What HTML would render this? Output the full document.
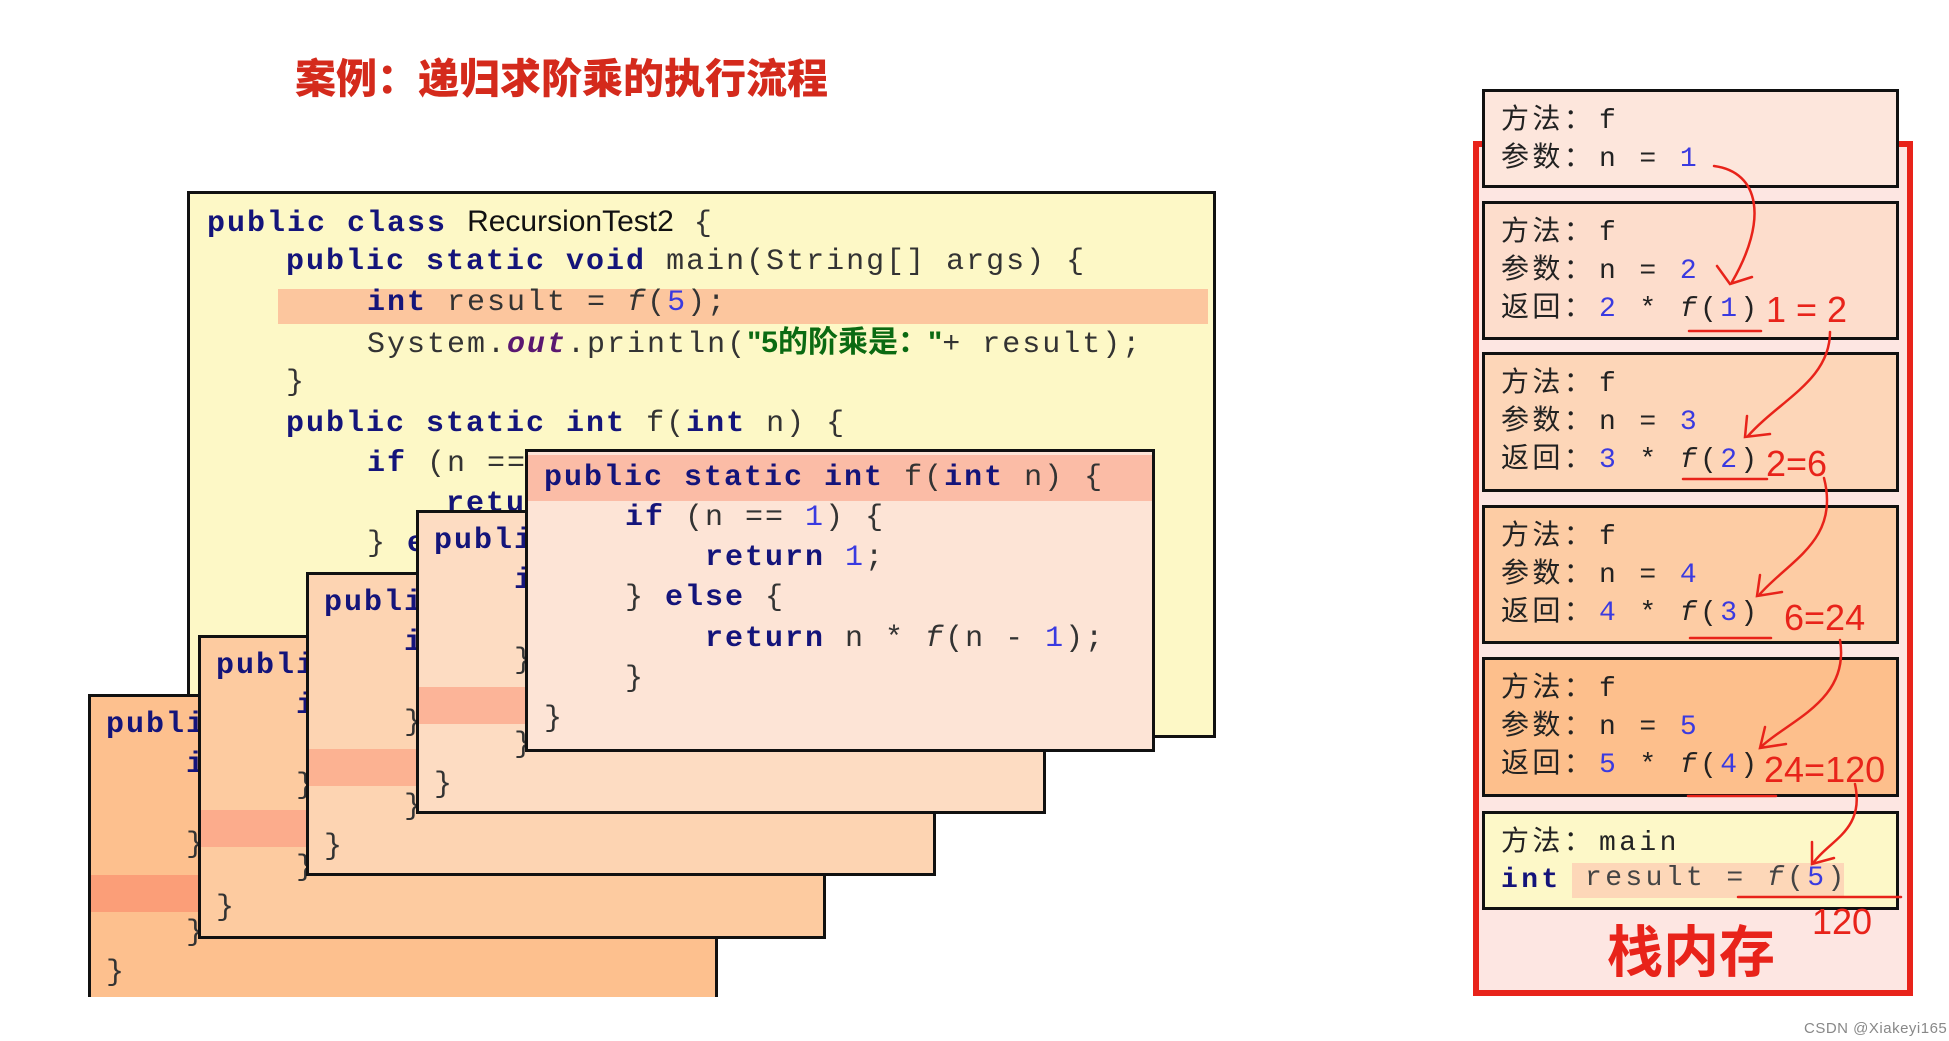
<!DOCTYPE html>
<html><head><meta charset="utf-8">
<style>
body{margin:0;width:1949px;height:1041px;background:#fff;position:relative;overflow:hidden;font-family:"Liberation Sans","Noto Sans CJK SC",sans-serif}
.abs{position:absolute}
.box{position:absolute;border:3px solid #111;box-sizing:border-box;overflow:hidden}
.ln{position:absolute;height:40px;line-height:40px;white-space:pre;font-family:"Liberation Mono","Noto Sans CJK SC",monospace;font-size:30px;letter-spacing:2px;color:#333}
.k{color:#14147a;font-weight:bold}
.n{color:#3a3ae0}
.s{color:#0b6a12;font-weight:bold;font-family:"Liberation Sans","Noto Sans CJK SC",sans-serif;letter-spacing:0}
.o{color:#5a1870;font-weight:bold;font-style:italic}
.i{font-style:italic}
.hl{position:absolute;left:0;right:0}
.fr{position:absolute;left:1490px;width:417px;border:3px solid #111;box-sizing:border-box}
.ft{position:absolute;height:38px;line-height:38px;white-space:pre;font-family:"Liberation Mono","Noto Sans CJK SC",monospace;font-size:28px;letter-spacing:3.4px;color:#222}
.hw{position:absolute;color:#e8231a;font-family:"Liberation Sans",sans-serif;font-size:36px;line-height:36px;white-space:pre}
</style></head><body>

<div class="abs" style="left:295px;top:47px;font-size:41px;font-weight:900;color:#d42a1c;font-family:'Noto Sans CJK SC',sans-serif;line-height:56px;white-space:nowrap">案例：递归求阶乘的执行流程</div>

<!-- main yellow box -->
<div class="box" style="left:187px;top:191px;width:1029px;height:547px;background:#fdf8c6">
  <div class="hl" style="left:88px;right:5px;top:95px;height:35px;background:#fcc69e"></div>
  <div class="ln" style="left:17px;top:8px"><span class="k">public class</span> <span style="font-family:'Liberation Sans';letter-spacing:0;color:#111">RecursionTest2</span> {</div>
  <div class="ln" style="left:96px;top:48px"><span class="k">public static void</span> main(String[] args) {</div>
  <div class="ln" style="left:177px;top:89px"><span class="k">int</span> result = <span class="i">f</span>(<span class="n">5</span>);</div>
  <div class="ln" style="left:177px;top:129px">System.<span class="o">out</span>.println(<span class="s">"5的阶乘是："</span>+ result);</div>
  <div class="ln" style="left:96px;top:169px">}</div>
  <div class="ln" style="left:96px;top:210px"><span class="k">public static int</span> f(<span class="k">int</span> n) {</div>
  <div class="ln" style="left:177px;top:250px"><span class="k">if</span> (n == <span class="n">1</span>) {</div>
  <div class="ln" style="left:256px;top:290px"><span class="k">return</span> <span class="n">1</span>;</div>
  <div class="ln" style="left:177px;top:330px">} <span class="k">else</span> {</div>
  <div class="ln" style="left:256px;top:371px"><span class="k">return</span> n * <span class="i">f</span>(n - <span class="n">1</span>);</div>
  <div class="ln" style="left:177px;top:411px">}</div>
  <div class="ln" style="left:96px;top:451px">}</div>
</div>

<!-- stacked boxes: back to front -->
<div class="box" style="left:88px;top:694px;width:630px;height:303px;border-bottom:none;background:#fdc08e">
  <div class="hl" style="top:178px;height:37px;background:#fb9e78"></div>
  <div class="ln" style="left:15px;top:8px"><span class="k">public static int</span> f(<span class="k">int</span> n) {</div>
  <div class="ln" style="left:95px;top:48px"><span class="k">if</span> (n == <span class="n">1</span>) {</div>
  <div class="ln" style="left:175px;top:88px"><span class="k">return</span> <span class="n">1</span>;</div>
  <div class="ln" style="left:95px;top:128px">} <span class="k">else</span> {</div>
  <div class="ln" style="left:175px;top:176px"><span class="k">return</span> n * <span class="i">f</span>(n - <span class="n">1</span>);</div>
  <div class="ln" style="left:95px;top:216px">}</div>
  <div class="ln" style="left:15px;top:256px">}</div>
</div>
<div class="box" style="left:198px;top:635px;width:628px;height:304px;background:#fdcba0">
  <div class="hl" style="top:172px;height:37px;background:#fcac8c"></div>
  <div class="ln" style="left:15px;top:8px"><span class="k">public static int</span> f(<span class="k">int</span> n) {</div>
  <div class="ln" style="left:95px;top:48px"><span class="k">if</span> (n == <span class="n">1</span>) {</div>
  <div class="ln" style="left:175px;top:88px"><span class="k">return</span> <span class="n">1</span>;</div>
  <div class="ln" style="left:95px;top:128px">} <span class="k">else</span> {</div>
  <div class="ln" style="left:175px;top:170px"><span class="k">return</span> n * <span class="i">f</span>(n - <span class="n">1</span>);</div>
  <div class="ln" style="left:95px;top:210px">}</div>
  <div class="ln" style="left:15px;top:250px">}</div>
</div>
<div class="box" style="left:306px;top:572px;width:630px;height:304px;background:#fdd4b2">
  <div class="hl" style="top:174px;height:37px;background:#fcb292"></div>
  <div class="ln" style="left:15px;top:8px"><span class="k">public static int</span> f(<span class="k">int</span> n) {</div>
  <div class="ln" style="left:95px;top:48px"><span class="k">if</span> (n == <span class="n">1</span>) {</div>
  <div class="ln" style="left:175px;top:88px"><span class="k">return</span> <span class="n">1</span>;</div>
  <div class="ln" style="left:95px;top:128px">} <span class="k">else</span> {</div>
  <div class="ln" style="left:175px;top:172px"><span class="k">return</span> n * <span class="i">f</span>(n - <span class="n">1</span>);</div>
  <div class="ln" style="left:95px;top:212px">}</div>
  <div class="ln" style="left:15px;top:252px">}</div>
</div>
<div class="box" style="left:416px;top:510px;width:630px;height:304px;background:#fddcc2">
  <div class="hl" style="top:174px;height:37px;background:#fcb498"></div>
  <div class="ln" style="left:15px;top:8px"><span class="k">public static int</span> f(<span class="k">int</span> n) {</div>
  <div class="ln" style="left:95px;top:48px"><span class="k">if</span> (n == <span class="n">1</span>) {</div>
  <div class="ln" style="left:175px;top:88px"><span class="k">return</span> <span class="n">1</span>;</div>
  <div class="ln" style="left:95px;top:128px">} <span class="k">else</span> {</div>
  <div class="ln" style="left:175px;top:172px"><span class="k">return</span> n * <span class="i">f</span>(n - <span class="n">1</span>);</div>
  <div class="ln" style="left:95px;top:212px">}</div>
  <div class="ln" style="left:15px;top:252px">}</div>
</div>
<div class="box" style="left:525px;top:449px;width:630px;height:303px;background:#fde4d6">
  <div class="hl" style="top:3px;height:46px;background:#fbbca6"></div>
  <div class="ln" style="left:16px;top:6px"><span class="k">public static int</span> f(<span class="k">int</span> n) {</div>
  <div class="ln" style="left:97px;top:46px"><span class="k">if</span> (n == <span class="n">1</span>) {</div>
  <div class="ln" style="left:177px;top:86px"><span class="k">return</span> <span class="n">1</span>;</div>
  <div class="ln" style="left:97px;top:126px">} <span class="k">else</span> {</div>
  <div class="ln" style="left:177px;top:167px"><span class="k">return</span> n * <span class="i">f</span>(n - <span class="n">1</span>);</div>
  <div class="ln" style="left:97px;top:207px">}</div>
  <div class="ln" style="left:16px;top:247px">}</div>
</div>

<!-- stack memory -->
<div class="abs" style="left:1473px;top:141px;width:440px;height:855px;box-sizing:border-box;border:6px solid #e8231a;background:#fde6e2"></div>
<div class="abs" style="left:1607px;top:914px;font-size:56px;font-weight:bold;color:#e8231a;font-family:'Noto Sans CJK SC',sans-serif;line-height:70px">栈内存</div>

<div style="position:absolute;left:-8px;top:0">
<div class="fr" style="top:89px;height:99px;background:#fde6dc">
  <div class="ft" style="left:16px;top:11px">方法：</div><div class="ft" style="left:114px;top:11px">f</div>
  <div class="ft" style="left:16px;top:49px">参数：</div><div class="ft" style="left:114px;top:49px">n = <span class="n">1</span></div>
</div>
<div class="fr" style="top:201px;height:139px;background:#fdddcc">
  <div class="ft" style="left:16px;top:11px">方法：</div><div class="ft" style="left:114px;top:11px">f</div>
  <div class="ft" style="left:16px;top:49px">参数：</div><div class="ft" style="left:114px;top:49px">n = <span class="n">2</span></div>
  <div class="ft" style="left:16px;top:87px">返回：</div><div class="ft" style="left:114px;top:87px"><span class="n">2</span> * <span class="i">f</span>(<span class="n">1</span>)</div>
</div>
<div class="fr" style="top:352px;height:140px;background:#fdd6b8">
  <div class="ft" style="left:16px;top:11px">方法：</div><div class="ft" style="left:114px;top:11px">f</div>
  <div class="ft" style="left:16px;top:49px">参数：</div><div class="ft" style="left:114px;top:49px">n = <span class="n">3</span></div>
  <div class="ft" style="left:16px;top:87px">返回：</div><div class="ft" style="left:114px;top:87px"><span class="n">3</span> * <span class="i">f</span>(<span class="n">2</span>)</div>
</div>
<div class="fr" style="top:505px;height:139px;background:#fdcca4">
  <div class="ft" style="left:16px;top:11px">方法：</div><div class="ft" style="left:114px;top:11px">f</div>
  <div class="ft" style="left:16px;top:49px">参数：</div><div class="ft" style="left:114px;top:49px">n = <span class="n">4</span></div>
  <div class="ft" style="left:16px;top:87px">返回：</div><div class="ft" style="left:114px;top:87px"><span class="n">4</span> * <span class="i">f</span>(<span class="n">3</span>)</div>
</div>
<div class="fr" style="top:657px;height:140px;background:#fdbf8c">
  <div class="ft" style="left:16px;top:11px">方法：</div><div class="ft" style="left:114px;top:11px">f</div>
  <div class="ft" style="left:16px;top:49px">参数：</div><div class="ft" style="left:114px;top:49px">n = <span class="n">5</span></div>
  <div class="ft" style="left:16px;top:87px">返回：</div><div class="ft" style="left:114px;top:87px"><span class="n">5</span> * <span class="i">f</span>(<span class="n">4</span>)</div>
</div>
<div class="fr" style="top:811px;height:99px;background:#fdf8c8">
  <div class="abs" style="left:87px;top:49px;width:272px;height:35px;background:#fdd7b8"></div>
  <div class="ft" style="left:16px;top:11px">方法：</div><div class="ft" style="left:114px;top:11px">main</div>
  <div class="ft" style="left:16px;top:48px"><span class="k">int</span></div><div class="ft" style="left:100px;top:46px;color:#444">result = <span class="i">f</span>(<span class="n">5</span>)</div>
</div>
</div>

<!-- handwritten annotations -->
<svg class="abs" style="left:0;top:0" width="1949" height="1041">
<g stroke="#e8231a" stroke-width="2.5" fill="none" stroke-linecap="round">
<path d="M1714 166 C1760 172 1768 220 1732 282"/><path d="M1717 266 L1730 284 L1752 277"/>
<path d="M1830 332 C1830 380 1780 400 1748 436"/><path d="M1747 416 L1745 437 L1770 434"/>
<path d="M1824 478 C1840 540 1790 560 1760 594"/><path d="M1760 575 L1757 596 L1782 592"/>
<path d="M1840 640 C1850 700 1790 720 1762 746"/><path d="M1765 727 L1760 748 L1786 744"/>
<path d="M1855 784 C1865 830 1830 840 1814 862"/><path d="M1812 842 L1812 864 L1834 858"/>
<path d="M1689 331 H1761"/><path d="M1683 479 H1767"/><path d="M1690 638 H1771"/><path d="M1688 796 H1776"/><path d="M1738 897 H1901"/>
</g></svg>
<div class="hw" style="left:1766px;top:292px">1 = 2</div>
<div class="hw" style="left:1766px;top:446px">2=6</div>
<div class="hw" style="left:1784px;top:600px">6=24</div>
<div class="hw" style="left:1764px;top:752px">24=120</div>
<div class="hw" style="left:1812px;top:904px">120</div>

<div class="abs" style="left:1804px;top:1020px;font-size:15px;color:#888;letter-spacing:0.5px;white-space:nowrap">CSDN @Xiakeyi165</div>
</body></html>
